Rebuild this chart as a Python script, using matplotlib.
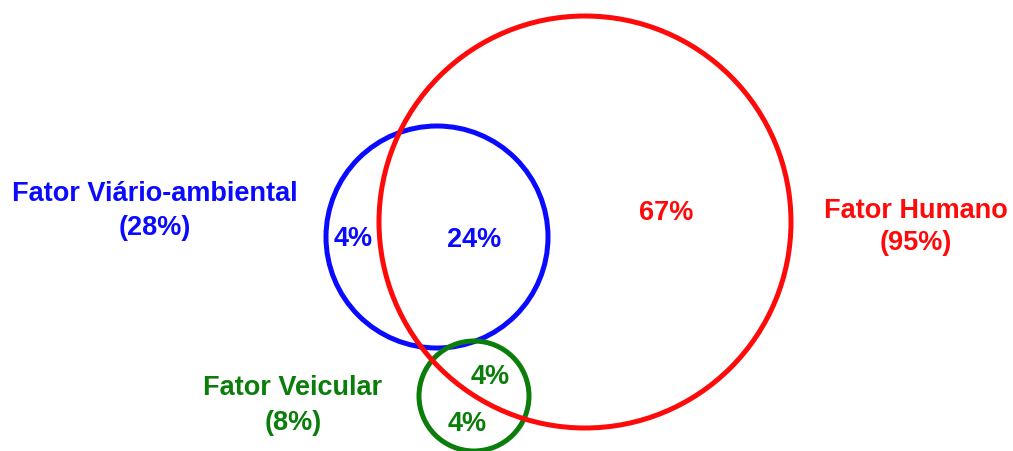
import matplotlib.pyplot as plt
from matplotlib.patches import Circle

# circle names, shares and region values
sets = ['Fator Viário-ambiental', 'Fator Humano', 'Fator Veicular']
totals = ['(28%)', '(95%)', '(8%)']
regions = ['4%', '24%', '67%', '4%', '4%']

blue = '#0a0aff'
red = '#ff0a0a'
green = '#0b7d0b'

fig = plt.figure(figsize=(10.13, 4.52), dpi=100)
ax = fig.add_axes([0, 0, 1, 1])
ax.set_xlim(0, 1013)
ax.set_ylim(452, 0)
ax.axis('off')

ax.add_patch(Circle((437, 238), 111, fill=False, ec=blue, lw=3.6, zorder=1))
ax.add_patch(Circle((474, 397), 55, fill=False, ec=green, lw=3.6, zorder=2))
ax.add_patch(Circle((585, 223), 206, fill=False, ec=red, lw=3.6, zorder=3))

font = dict(family='Liberation Sans', weight='bold', fontsize=19.5, ha='center', va='center')

ax.text(155, 194, sets[0], color=blue, **font)
ax.text(155, 228, totals[0], color=blue, **font)
ax.text(916, 211, sets[1], color=red, **font)
ax.text(916, 243, totals[1], color=red, **font)
ax.text(293, 388, sets[2], color=green, **font)
ax.text(293, 423, totals[2], color=green, **font)

ax.text(353, 239, regions[0], color=blue, **font)
ax.text(474, 240, regions[1], color=blue, **font)
ax.text(666, 213, regions[2], color=red, **font)
ax.text(490, 377, regions[3], color=green, **font)
ax.text(467, 424, regions[4], color=green, **font)

fig.savefig('out.png', dpi=100)
